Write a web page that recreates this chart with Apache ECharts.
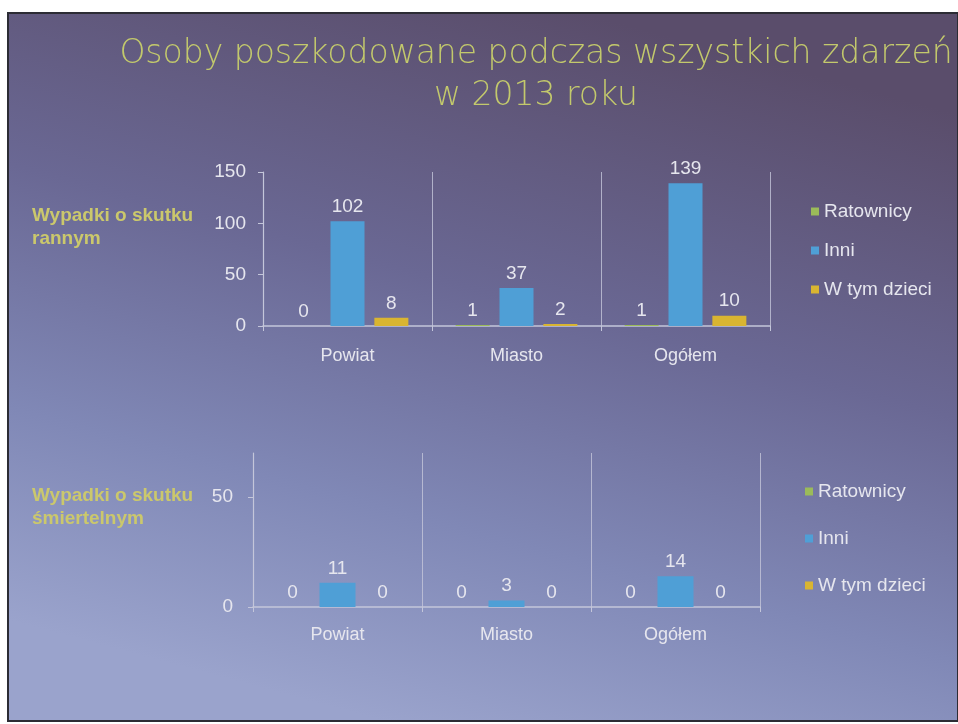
<!DOCTYPE html>
<html>
<head>
<meta charset="utf-8">
<script src="https://cdn.jsdelivr.net/npm/echarts@6/dist/echarts.min.js"></script>
<style>
  html, body { margin: 0; padding: 0; background: #ffffff; }
  #chart { width: 958px; height: 724px; }
</style>
</head>
<body>
<div id="chart"></div>
<script>
// dane z wykresu
const categories = ['Powiat', 'Miasto', 'Ogółem'];
const seriesNames = ['Ratownicy', 'Inni', 'W tym dzieci'];

// wypadki o skutku rannym
const ranniRatownicy = [0, 1, 1];
const ranniInni = [102, 37, 139];
const ranniDzieci = [8, 2, 10];

// wypadki o skutku śmiertelnym
const smiertRatownicy = [0, 0, 0];
const smiertInni = [11, 3, 14];
const smiertDzieci = [0, 0, 0];

const ranniTicks = [0, 50, 100, 150];
const smiertTicks = [0, 50];

const COLORS = {
  RATOWNICY: '#9bbb59',
  INNI: '#4f9fd6',
  DZIECI: '#d9b531',
  TITLE: '#c3c96c',
  SIDE: '#cbc86c',
  TEXT: '#e6e6ee',
  AXIS: '#c4c6da'
};
const FONT = "'Liberation Sans', Arial, sans-serif";

const chart = echarts.init(document.getElementById('chart'), null, { renderer: 'canvas' });

const makeBars = (data, color, xi, width, gap) => ({
  type: 'bar',
  xAxisIndex: xi,
  yAxisIndex: xi,
  data: data,
  barWidth: width,
  barGap: gap,
  itemStyle: { color: color },
  label: {
    show: true,
    position: 'top',
    distance: 5,
    color: COLORS.TEXT,
    fontSize: 19,
    fontFamily: FONT
  }
});

const xAxisBase = (gi, margin) => ({
  type: 'category',
  gridIndex: gi,
  data: categories,
  axisLine: { lineStyle: { color: COLORS.AXIS, width: 1.5 } },
  axisTick: { show: true, length: 5, lineStyle: { color: COLORS.AXIS } },
  splitLine: { show: true, lineStyle: { color: COLORS.AXIS, width: 1, opacity: 0.8 } },
  axisLabel: { color: COLORS.TEXT, fontSize: 18, fontFamily: FONT, margin: margin }
});

const yAxisBase = (gi, max, ticks, margin) => ({
  type: 'value',
  gridIndex: gi,
  min: 0,
  max: max,
  interval: 50,
  axisLine: { show: true, lineStyle: { color: COLORS.AXIS, width: 1.2 } },
  axisTick: { show: true, length: 5, lineStyle: { color: COLORS.AXIS }, customValues: ticks },
  axisLabel: { color: COLORS.TEXT, fontSize: 19, fontFamily: FONT, margin: margin, customValues: ticks },
  splitLine: { show: false }
});

const legendBase = (left, top, gap) => ({
  data: seriesNames,
  orient: 'vertical',
  left: left,
  top: top,
  itemGap: gap,
  itemWidth: 8,
  itemHeight: 8,
  icon: 'rect',
  textStyle: { color: COLORS.TEXT, fontSize: 19, fontFamily: FONT }
});

const option = {
  backgroundColor: '#ffffff',
  animation: false,
  graphic: [
    {
      type: 'rect',
      z: -10,
      shape: { x: 8, y: 13, width: 950, height: 708 },
      style: {
        fill: new echarts.graphic.LinearGradient(0.6, 0, 0.4, 1, [
          { offset: 0, color: '#5a4d6b' },
          { offset: 0.4, color: '#6a6894' },
          { offset: 0.72, color: '#8088b6' },
          { offset: 1, color: '#9aa3cc' }
        ]),
        stroke: '#2c2c34',
        lineWidth: 2
      }
    },
    {
      type: 'text',
      left: 32,
      top: 204,
      style: {
        text: 'Wypadki o skutku\nrannym',
        fill: COLORS.SIDE,
        font: "bold 19px 'Liberation Sans', Arial, sans-serif",
        lineHeight: 23
      }
    },
    {
      type: 'text',
      left: 32,
      top: 484,
      style: {
        text: 'Wypadki o skutku\nśmiertelnym',
        fill: COLORS.SIDE,
        font: "bold 19px 'Liberation Sans', Arial, sans-serif",
        lineHeight: 23
      }
    }
  ],
  title: {
    text: 'Osoby poszkodowane podczas wszystkich zdarzeń\nw 2013 roku',
    left: 531,
    textAlign: 'center',
    top: 28,
    textStyle: {
      color: COLORS.TITLE,
      fontSize: 33,
      fontWeight: 200,
      fontFamily: "'DejaVu Sans', sans-serif",
      lineHeight: 42
    }
  },
  legend: [
    legendBase(806, 197, 20),
    legendBase(800, 477, 28)
  ],
  grid: [
    { left: 263, right: 188, top: 172, bottom: 398 },
    { left: 253, right: 198, top: 453, bottom: 117 }
  ],
  xAxis: [
    xAxisBase(0, 21),
    xAxisBase(1, 19)
  ],
  yAxis: [
    yAxisBase(0, 150, ranniTicks, 17),
    yAxisBase(1, 70, smiertTicks, 20)
  ],
  series: [
    Object.assign({ name: seriesNames[0] }, makeBars(ranniRatownicy, COLORS.RATOWNICY, 0, 34, '29%')),
    Object.assign({ name: seriesNames[1] }, makeBars(ranniInni, COLORS.INNI, 0, 34, '29%')),
    Object.assign({ name: seriesNames[2] }, makeBars(ranniDzieci, COLORS.DZIECI, 0, 34, '29%')),
    Object.assign({ name: seriesNames[0] }, makeBars(smiertRatownicy, COLORS.RATOWNICY, 1, 36, '25%')),
    Object.assign({ name: seriesNames[1] }, makeBars(smiertInni, COLORS.INNI, 1, 36, '25%')),
    Object.assign({ name: seriesNames[2] }, makeBars(smiertDzieci, COLORS.DZIECI, 1, 36, '25%'))
  ]
};

chart.setOption(option);
</script>
</body>
</html>
